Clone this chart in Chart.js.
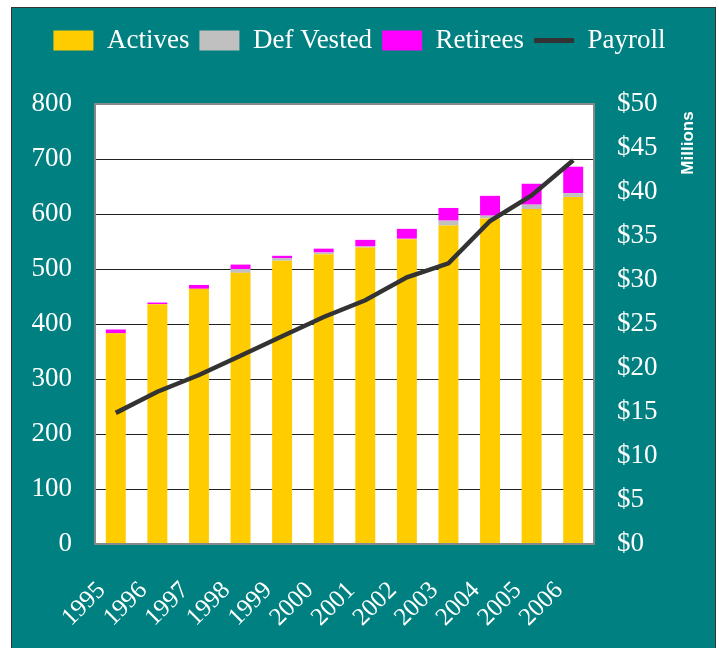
<!DOCTYPE html>
<html>
<head>
<meta charset="utf-8">
<script src="https://cdn.jsdelivr.net/npm/chart.js@4.4.0/dist/chart.umd.min.js"></script>
<style>
  html, body { margin: 0; padding: 0; background: #ffffff; }
  #wrap { width: 719px; height: 648px; }
</style>
</head>
<body>
<div id="wrap"><canvas id="grafico" width="719" height="648"></canvas></div>
<script>
var anios = ['1995', '1996', '1997', '1998', '1999', '2000', '2001', '2002', '2003', '2004', '2005', '2006'];
var actives = [383, 436, 464, 493, 515, 527, 539, 554, 579, 592, 609, 631];
var defVested = [0, 0, 0, 7, 5, 3, 2, 1, 9, 5, 8, 7];
var retirees = [7, 3, 7, 8, 4, 7, 12, 18, 23, 36, 38, 48];
var payroll = [14.9, 17.3, 19.2, 21.4, 23.6, 25.8, 27.7, 30.3, 31.9, 36.7, 39.6, 43.6];

var teal = '#008080';
var fuente = "'Liberation Serif', 'Times New Roman', serif";

var fondo = {
  id: 'fondo',
  beforeDraw: function (chart) {
    var ctx = chart.ctx;
    var a = chart.chartArea;
    ctx.save();
    ctx.fillStyle = '#ffffff';
    ctx.fillRect(0, 0, chart.width, chart.height);
    ctx.fillStyle = teal;
    ctx.fillRect(12, 8, 703, 640);
    ctx.strokeStyle = '#333333';
    ctx.lineWidth = 1;
    ctx.strokeRect(11.5, 7.5, 704, 650);
    ctx.fillStyle = '#ffffff';
    ctx.fillRect(a.left, a.top, a.right - a.left, a.bottom - a.top);
    ctx.restore();
  },
  afterDraw: function (chart) {
    var ctx = chart.ctx;
    var a = chart.chartArea;
    ctx.save();
    ctx.strokeStyle = '#888888';
    ctx.lineWidth = 2;
    ctx.strokeRect(a.left, a.top, a.right - a.left, a.bottom - a.top);
    // titulo del eje derecho
    ctx.translate(688, 143);
    ctx.rotate(-Math.PI / 2);
    ctx.fillStyle = '#ffffff';
    ctx.font = "bold 17px 'Liberation Sans', Arial, sans-serif";
    ctx.textAlign = 'center';
    ctx.textBaseline = 'middle';
    ctx.fillText('Millions', 0, 0);
    ctx.restore();
  }
};

var margenLeyenda = {
  id: 'margenLeyenda',
  afterInit: function (chart) {
    var fit = chart.legend.fit;
    chart.legend.fit = function () {
      fit.bind(chart.legend)();
      this.height += 40;
    };
  }
};

new Chart(document.getElementById('grafico').getContext('2d'), {
  type: 'bar',
  data: {
    labels: anios,
    datasets: [{
      label: 'Actives',
      data: actives,
      backgroundColor: '#FFCC00',
      yAxisID: 'y',
      order: 1
    }, {
      label: 'Def Vested',
      data: defVested,
      backgroundColor: '#C0C0C0',
      yAxisID: 'y',
      order: 1
    }, {
      label: 'Retirees',
      data: retirees,
      backgroundColor: '#FF00FF',
      yAxisID: 'y',
      order: 1
    }, {
      type: 'line',
      label: 'Payroll',
      data: payroll,
      borderColor: '#333333',
      backgroundColor: '#333333',
      borderWidth: 4.5,
      pointRadius: 0,
      tension: 0,
      yAxisID: 'y1',
      stack: 'payroll',
      order: 0
    }]
  },
  options: {
    responsive: false,
    animation: false,
    barPercentage: 0.48,
    categoryPercentage: 1.0,
    layout: {
      padding: { top: 17, left: 0, right: 0, bottom: 0 }
    },
    plugins: {
      tooltip: { enabled: false },
      legend: {
        position: 'top',
        labels: {
          color: '#ffffff',
          font: { family: fuente, size: 27 },
          usePointStyle: true,
          pointStyleWidth: 40,
          boxHeight: 20,
          padding: 10,
          sort: function (a, b) { return a.datasetIndex - b.datasetIndex; },
          generateLabels: function (chart) {
            var items = Chart.defaults.plugins.legend.labels.generateLabels(chart);
            items.forEach(function (it) {
              if (it.datasetIndex === 3) {
                it.pointStyle = 'line';
                it.lineWidth = 5;
                it.strokeStyle = '#333333';
              } else {
                it.pointStyle = 'rect';
                it.lineWidth = 0;
              }
            });
            return items;
          }
        }
      }
    },
    scales: {
      x: {
        stacked: true,
        grid: { display: false, drawTicks: false },
        border: { display: false },
        ticks: {
          color: '#ffffff',
          font: { family: fuente, size: 25 },
          minRotation: 45,
          maxRotation: 45,
          padding: 32,
          labelOffset: -14,
          autoSkip: false
        },
        afterFit: function (s) { s.height = 104; }
      },
      y: {
        stacked: true,
        position: 'left',
        min: 0,
        max: 800,
        grid: { color: '#222222', lineWidth: 1, drawTicks: false },
        border: { display: false },
        ticks: {
          stepSize: 100,
          color: '#ffffff',
          font: { family: fuente, size: 27 },
          padding: 23
        },
        afterFit: function (s) { s.width = 95; }
      },
      y1: {
        position: 'right',
        min: 0,
        max: 50,
        grid: { display: false, drawTicks: false },
        border: { display: false },
        ticks: {
          stepSize: 5,
          color: '#ffffff',
          font: { family: fuente, size: 27 },
          padding: 23,
          callback: function (v) { return '$' + v; }
        },
        afterFit: function (s) { s.width = 125; }
      }
    }
  },
  plugins: [fondo, margenLeyenda]
});
</script>
</body>
</html>
